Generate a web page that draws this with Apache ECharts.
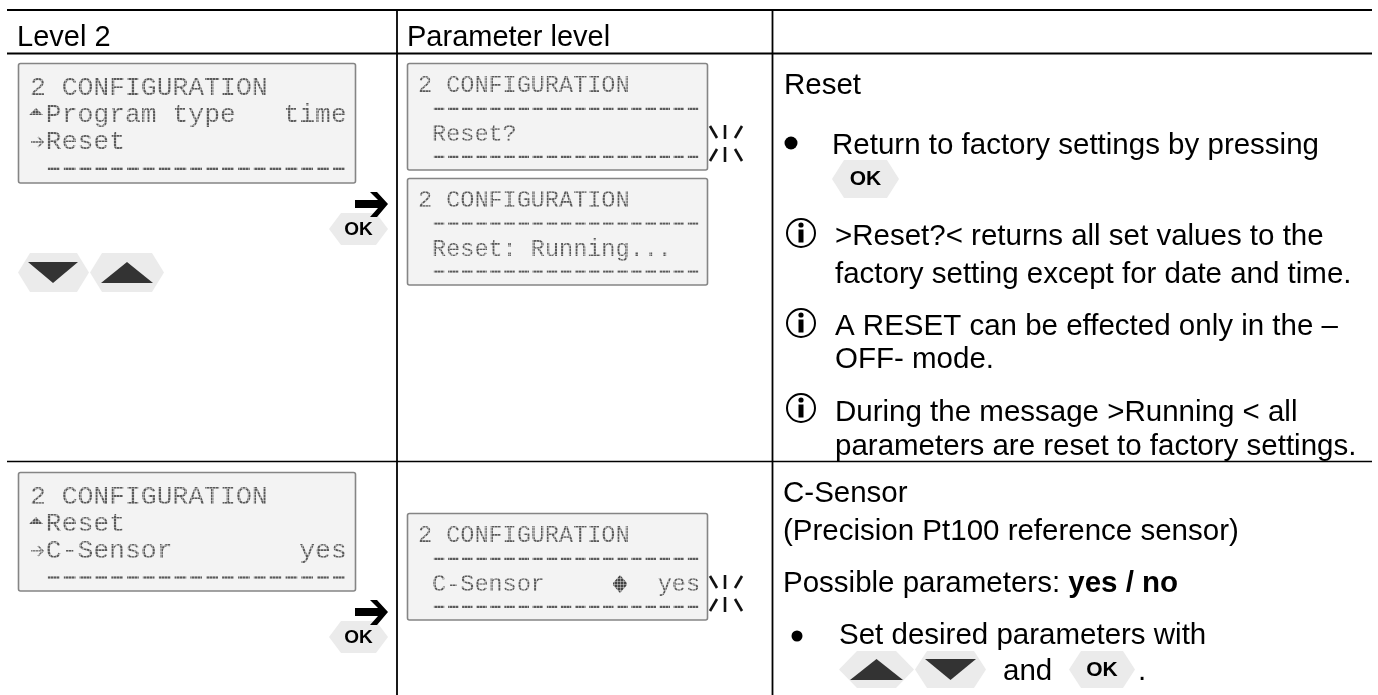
<!DOCTYPE html>
<html><head><meta charset="utf-8">
<style>html,body{margin:0;padding:0;background:#fff}#c{width:1378px;height:695px}</style>
<script src="https://cdn.jsdelivr.net/npm/echarts@6/dist/echarts.min.js"></script>
</head><body><div id="c"></div>
<script>
const headers = ['Level 2', 'Parameter level'];
const dash19 = '–'.repeat(19);
const lcdLevelTop = ['2 CONFIGURATION', ' Program type   time', ' Reset', ' ' + dash19];
const lcdLevelBottom = ['2 CONFIGURATION', ' Reset', ' C-Sensor        yes', ' ' + dash19];
const lcdParamA = ['2 CONFIGURATION', ' ' + dash19, ' Reset?', ' ' + dash19];
const lcdParamB = ['2 CONFIGURATION', ' ' + dash19, ' Reset: Running...', ' ' + dash19];
const lcdParamC = ['2 CONFIGURATION', ' ' + dash19, ' C-Sensor        yes', ' ' + dash19];
const resetTitle = 'Reset';
const resetBullet = 'Return to factory settings by pressing';
const resetNotes = [
  ['>Reset?< returns all set values to the', 'factory setting except for date and time.'],
  ['A RESET can be effected only in the –', 'OFF- mode.'],
  ['During the message >Running < all', 'parameters are reset to factory settings.']
];
const sensorTitle = ['C-Sensor', '(Precision Pt100 reference sensor)'];
const sensorParams = ['Possible parameters: ', 'yes / no'];
const sensorBullet = 'Set desired parameters with';
const okLabel = 'OK';

const SANS = '"Liberation Sans", Arial, sans-serif';
const MONO = '"Liberation Mono", monospace';
const els = [];
function line(x1, y1, x2, y2, w, c) {
  els.push({type:'line', shape:{x1,y1,x2,y2}, style:{stroke:c||'#000', lineWidth:w}});
}
function text(t, x, y, size, opt) {
  opt = opt || {};
  els.push({type:'text', z:opt.z||5, style:{text:t, x, y:y+(size>=29?1.5:0), font:(opt.weight||'normal')+' '+size+'px '+(opt.family||SANS),
    fill:opt.fill||'#000', textVerticalAlign:'middle', textAlign:opt.align||'left'}});
}
function poly(points, fill, z) { els.push({type:'polygon', z:z||1, shape:{points}, style:{fill}}); }
function hex(x0, y0, x1, y1, inset) {
  const i = inset, m = (y0+y1)/2;
  poly([[x0,m],[x0+i,y0],[x1-i,y0],[x1,m],[x1-i,y1],[x0+i,y1]], '#ebebeb');
}
function okKey(x0, y0, x1, y1, size) {
  hex(x0,y0,x1,y1,12);
  text(okLabel, (x0+x1)/2, (y0+y1)/2+0.5, size, {weight:'bold', align:'center'});
}
function down(x0,y0,x1,y1,tx0,ty0,tx1,ty1,inset){ hex(x0,y0,x1,y1,inset); poly([[tx0,ty0],[tx1,ty0],[(tx0+tx1)/2,ty1]],'#333',2); }
function up(x0,y0,x1,y1,tx0,ty0,tx1,ty1,inset){ hex(x0,y0,x1,y1,inset); poly([[tx0,ty1],[tx1,ty1],[(tx0+tx1)/2,ty0]],'#333',2); }
function bigArrow(x, y) {
  poly([[x,y-4],[x+23,y-4],[x+15,y-12],[x+22,y-12],[x+33,y],[x+22,y+13],[x+15,y+13],[x+23,y+4],[x,y+4]],'#000',6);
}
function flash(x, y) {
  const seg=[[[2,1],[9,13]],[[17,0],[17,14]],[[34,1],[27,13]],[[2,36],[9,24]],[[17,22],[17,37]],[[34,36],[27,24]]];
  seg.forEach(s=>line(x+s[0][0],y+s[0][1],x+s[1][0],y+s[1][1],2.6,'#111'));
}
const grid = document.createElement('canvas'); grid.width=3; grid.height=3;
(function(){const g=grid.getContext('2d'); g.fillStyle='rgba(243,243,243,0.42)';
 g.fillRect(2,0,1,3); g.fillRect(0,2,3,1);})();
function lcd(x0,y0,x1,y1,rows,size,tx,rowY) {
  els.push({type:'rect', z:2, shape:{x:x0,y:y0,width:x1-x0,height:y1-y0,r:2}, style:{fill:'#f3f3f3',stroke:'#858585',lineWidth:1.6}});
  rows.forEach((r,i)=>{
    const isDash = r.trim().charAt(0)==='–';
    els.push({type:'text', z:5, style:{text:r, x:tx, y:y0+rowY[i], font:(isDash?'bold ':'normal ')+size+'px '+MONO, fill:'#5a5a5a', textVerticalAlign:'middle'}});
  });
  els.push({type:'rect', z:7, shape:{x:x0+2,y:y0+2,width:x1-x0-4,height:y1-y0-4}, style:{fill:{image:grid,repeat:'repeat'}}});
}
function lcdGlyphUp(x,y){ els.push({type:'polygon',z:6,shape:{points:[[x,y+7],[x+7,y],[x+14,y+7]]},style:{fill:'#555'}}); }
function lcdGlyphArrow(x,y){
  els.push({type:'polyline',z:6,shape:{points:[[x,y],[x+12,y]]},style:{stroke:'#666',fill:null,lineWidth:1.6}});
  els.push({type:'polyline',z:6,shape:{points:[[x+7,y-5],[x+12,y],[x+7,y+5]]},style:{stroke:'#666',fill:null,lineWidth:1.6}});
}
function lcdGlyphUpDown(x,y){
  els.push({type:'polygon',z:6,shape:{points:[[x,y-1],[x+7,y-9],[x+14,y-1]]},style:{fill:'#444'}});
  els.push({type:'polygon',z:6,shape:{points:[[x,y+1],[x+7,y+9],[x+14,y+1]]},style:{fill:'#444'}});
  els.push({type:'rect',z:6,shape:{x:x,y:y-1,width:14,height:2},style:{fill:'#444'}});
}
function info(cx, cy) {
  els.push({type:'circle', shape:{cx,cy,r:14}, style:{fill:null,stroke:'#000',lineWidth:2}});
  els.push({type:'circle', shape:{cx,cy:cy-8,r:2.6}, style:{fill:'#000'}});
  els.push({type:'rect', shape:{x:cx-2.5,y:cy-3.5,width:5,height:13}, style:{fill:'#000'}});
}

// table rules
line(7,10,1372,10,2.2); line(7,53.5,1372,53.5,2.2); line(7,461.5,1372,461.5,1.6);
line(397,10,397,695,1.8); line(772.5,10,772.5,695,1.8);

// headers
text(headers[0], 17, 36, 29); text(headers[1], 407, 36, 29);

// left column
const rowBig=[25,52,79,105], rowSmall=[22,46,71,94];
lcd(18.5,63.5,355.5,183,lcdLevelTop,26.4,30,rowBig);
lcdGlyphUp(29,108); lcdGlyphArrow(31,142);
bigArrow(355,204); okKey(329,213,388,245,19);
down(18,253,89,292,28,262,78,283,12); up(90,253,164,292,101,262,153,283,12);

lcd(18.5,472.5,355.5,591,lcdLevelBottom,26.4,30,rowBig);
lcdGlyphUp(29,517); lcdGlyphArrow(31,551);
bigArrow(355,612); okKey(329,621,388,653,19);

// middle column
lcd(407.5,63.5,707.5,170,lcdParamA,23.5,418,rowSmall);
flash(708,125);
lcd(407.5,178.5,707.5,285,lcdParamB,23.5,418,rowSmall);
lcd(407.5,513.5,707.5,620,lcdParamC,23.5,418,rowSmall);
lcdGlyphUpDown(613,584);
flash(708,575);

// right column
const RX=784, NX=835, FS=29.5;
text(resetTitle, RX, 84, FS);
els.push({type:'circle', shape:{cx:791,cy:143,r:6.5}, style:{fill:'#000'}});
text(resetBullet, 832, 144, FS);
okKey(832,160,899,198,21);
const noteY=[[235,273],[325,358],[411,445]];
const infoY=[233,323,408];
resetNotes.forEach((n,i)=>{
  info(801, infoY[i]);
  text(n[0], NX, noteY[i][0], FS); text(n[1], NX, noteY[i][1], FS);
});
text(sensorTitle[0], 783, 492, FS);
text(sensorTitle[1], 783, 530, FS);
els.push({type:'text', z:5, style:{text:'{a|'+sensorParams[0]+'}{b|'+sensorParams[1]+'}', x:783, y:583.5, textVerticalAlign:'middle',
  rich:{a:{font:'normal '+FS+'px '+SANS,fill:'#000'}, b:{font:'bold '+FS+'px '+SANS,fill:'#000'}}}});
els.push({type:'circle', shape:{cx:797,cy:636,r:5.5}, style:{fill:'#000'}});
text(sensorBullet, 839, 634, FS);
up(839,651,914,688,850,659,903,680,18); down(915,651,986,688,925,659,976,680,12);
text('and', 1003, 670, FS);
okKey(1069,651,1135,688,21);
text('.', 1138, 670, FS);

const chart = echarts.init(document.getElementById('c'), null, {renderer:'canvas'});
chart.setOption({animation:false, backgroundColor:'#fff', graphic:{elements:els}});
</script></body></html>
